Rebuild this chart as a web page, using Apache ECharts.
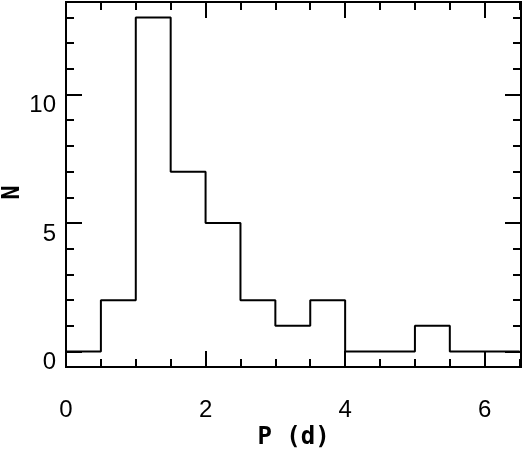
<!DOCTYPE html>
<html>
<head>
<meta charset="utf-8">
<script src="https://cdn.jsdelivr.net/npm/echarts@6/dist/echarts.min.js"></script>
<style>
  html, body { margin: 0; padding: 0; background: #fff; }
  #chart { width: 524px; height: 452px; }
</style>
</head>
<body>
<div id="chart"></div>
<script>
// histogram of periods, bins of 0.5 d
const binEdges = [0, 0.5, 1, 1.5, 2, 2.5, 3, 3.5, 4, 4.5, 5, 5.5, 6, 6.5];
const counts = [0, 2, 13, 7, 5, 2, 1, 2, 0, 0, 1, 0, 0];
const xTicks = [0, 2, 4, 6];
const xMinorTicks = [0, 0.5, 1, 1.5, 2, 2.5, 3, 3.5, 4, 4.5, 5, 5.5, 6, 6.5];
const yTicks = [0, 5, 10];
const yMinorTicks = [0, 1, 2, 3, 4, 5, 6, 7, 8, 9, 10, 11, 12, 13];

const xMin = 0, xMax = 6.52;
const yMin = -0.6, yMax = 13.6;

// step line points: start at the axis floor, then each bin's left edge, close at last edge
const stepData = [[binEdges[0], yMin]];
counts.forEach((c, i) => stepData.push([binEdges[i], c]));
stepData.push([binEdges[binEdges.length - 1], counts[counts.length - 1]]);

const chart = echarts.init(document.getElementById('chart'));

const black = '#000';
const tickFont = { color: black, fontSize: 24, fontFamily: 'Liberation Sans, Arial, sans-serif' };
const nameFont = { color: black, fontSize: 24, fontWeight: 'bold', fontFamily: 'DejaVu Sans Mono, monospace' };

// one axis per tick length; several axes are stacked on each side
function axis(position, min, max, ticks, len, label, extra) {
  return Object.assign({
    type: 'value',
    position: position,
    min: min,
    max: max,
    axisLine: { show: true, onZero: false, lineStyle: { color: black, width: 2 } },
    axisTick: { show: true, inside: true, length: len, customValues: ticks, lineStyle: { color: black, width: 2 } },
    axisLabel: label ? Object.assign({ customValues: ticks }, label) : { show: false },
    splitLine: { show: false }
  }, extra || {});
}

chart.setOption({
  animation: false,
  backgroundColor: '#fff',
  grid: { left: 66, right: 3, top: 2, bottom: 85, containLabel: false, outerBoundsMode: 'none' },
  xAxis: [
    axis('bottom', xMin, xMax, xTicks, 16, Object.assign({ margin: 31 }, tickFont),
      { name: 'P (d)', nameLocation: 'middle', nameGap: 59, nameMoveOverlap: false, nameTextStyle: nameFont }),
    axis('bottom', xMin, xMax, xMinorTicks, 8),
    axis('top', xMin, xMax, xTicks, 16),
    axis('top', xMin, xMax, xMinorTicks, 8)
  ],
  yAxis: [
    // IDL-style labels sit a little below their tick
    axis('left', yMin, yMax, yTicks, 16, Object.assign({ margin: 10, verticalAlign: 'top', lineHeight: 22 }, tickFont),
      { name: 'N', nameLocation: 'middle', nameGap: 41, nameRotate: 90, nameMoveOverlap: false,
        nameTextStyle: Object.assign({ padding: [0, 16, 0, 0] }, nameFont) }),
    axis('left', yMin, yMax, yMinorTicks, 8),
    axis('right', yMin, yMax, yTicks, 16),
    axis('right', yMin, yMax, yMinorTicks, 8)
  ],
  series: [{
    type: 'line',
    step: 'end',
    data: stepData,
    showSymbol: false,
    symbol: 'none',
    lineStyle: { color: black, width: 2 },
    clip: true
  }]
});
</script>
</body>
</html>
